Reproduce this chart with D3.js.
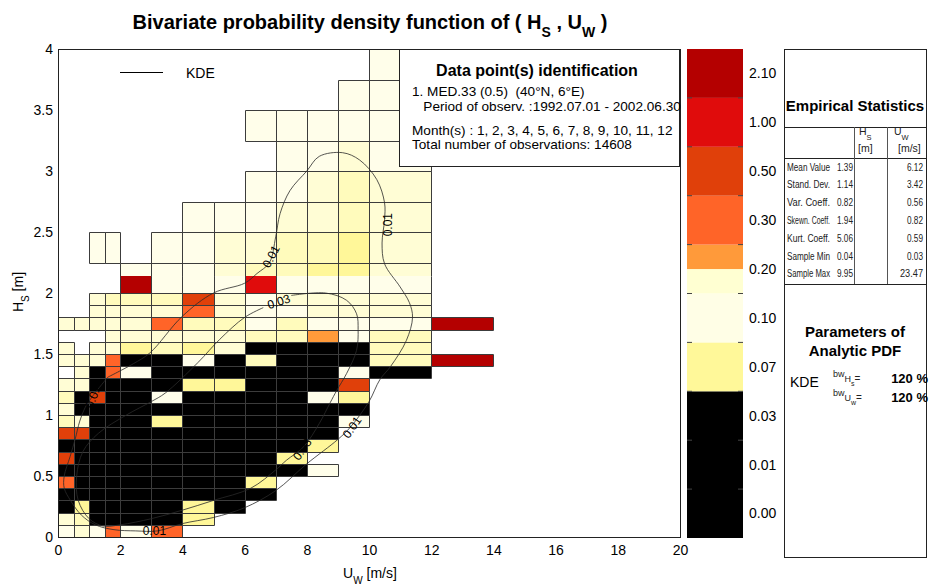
<!DOCTYPE html>
<html>
<head>
<meta charset="utf-8">
<script src="https://cdn.jsdelivr.net/npm/d3@7"></script>
<style>
body { margin: 0; background: #fff; }
svg { font-family: Arial, "Liberation Sans", sans-serif; }
</style>
</head>
<body>
<svg width="930" height="588"></svg>
<script>
// bin edges of the 2D histogram
var uEdges = [0, 0.5, 1, 1.5, 2, 3, 4, 5, 6, 7, 8, 9, 10, 12, 14];
var hEdges = [0, 0.1, 0.2, 0.3, 0.4, 0.5, 0.6, 0.7, 0.8, 0.9, 1.0, 1.1, 1.2, 1.3, 1.4, 1.5,
	1.6, 1.7, 1.8, 1.9, 2.0, 2.14, 2.25, 2.5, 2.75, 3.0, 3.25, 3.5, 3.75, 4.0];

// one string per H row (bottom first), one char per U bin, '.' = empty
var cellRows = [
	'wpwowo........',
	'pq0000y.......',
	'0y0000y0......',
	'000000000.....',
	'o0000000y.....',
	'0000000000w...',
	'O00000000y....',
	'0000000000y...',
	'OO000000000...',
	'qp000y00000w..',
	'p00000000000..',
	'q0O00w0000wy..',
	'pp0000yy000O..',
	'.p0ow000000w0.',
	'pppo00w0q000qR',
	'p.ppyqyp0000q.',
	'...pppppqqLwq.',
	'pppppoqqwqwwwR',
	'..ppppopwwppp.',
	'..pqqqOpwpppp.',
	'....Rwwwrwwww.',
	'....wwwpqqyyp.',
	'..ww.wwppqqyp.',
	'......wwwppqp.',
	'........wwpqp.',
	'.........wwpw.',
	'........wwwww.',
	'...........ww.',
	'............w.'
];

var cellColor = { w: '#FFFEEA', p: '#FFFDD5', q: '#FFFBBC', y: '#FFF799', '0': '#000000',
	L: '#FF9A3A', o: '#FF6428', O: '#E0400A', r: '#E00C0C', R: '#B40000' };

// KDE contours (U, H)
var kde001 = [[1.6,1.31],[1.13,1.16],[0.87,1.06],[0.7,0.95],[0.55,0.8],[0.39,0.66],[0.2,0.5],[0.2,0.4],
	[0.4,0.3],[0.75,0.18],[1.2,0.1],[1.8,0.06],[2.5,0.05],[3.2,0.05],[4.0,0.11],[5.0,0.16],[6.0,0.24],
	[7.0,0.38],[8.0,0.6],[9.0,0.8],[9.4,0.9],[10.0,1.11],[10.35,1.29],[10.7,1.4],[11.2,1.61],[11.4,1.8],
	[11.3,1.92],[11.0,2.05],[10.5,2.24],[10.42,2.41],[10.5,2.6],[10.5,2.74],[10.25,2.93],[9.7,3.09],
	[9.15,3.15],[8.4,3.12],[8.0,3.0],[7.46,2.84],[7.14,2.65],[7.0,2.46],[6.8,2.25],[6.4,2.16],[6.0,2.08],
	[5.0,2.0],[4.0,1.81],[2.96,1.51],[2.42,1.42],[1.6,1.31]];
var kde003 = [[7.5,1.98],[8.6,2.0],[9.28,1.94],[9.6,1.83],[9.65,1.7],[9.6,1.53],[9.28,1.34],[8.96,1.2],
	[8.75,1.1],[8.4,0.93],[7.9,0.74],[7.35,0.63],[7.0,0.55],[6.2,0.4],[5.0,0.3],[4.0,0.22],[3.0,0.15],
	[2.0,0.1],[1.45,0.09],[1.0,0.15],[0.65,0.3],[0.6,0.5],[0.8,0.7],[1.3,0.85],[2.2,1.0],[3.0,1.11],
	[3.45,1.18],[4.5,1.43],[5.2,1.62],[6.0,1.8],[6.6,1.88]];
var contourLabels = [
	['0.01', 6.85, 2.3, -62], ['0.01', 10.6, 2.56, -90], ['0.01', 9.45, 0.9, -55],
	['0.01', 1.12, 1.15, -70], ['0.01', 3.1, 0.05, 0], ['0.03', 7.1, 1.93, -18], ['0.03', 7.85, 0.72, -55]
];

var xTicks = [0, 2, 4, 6, 8, 10, 12, 14, 16, 18, 20];
var yTicks = [0, 0.5, 1, 1.5, 2, 2.5, 3, 3.5, 4];

// colour bar
var cbColors = ['#000000', '#FFF899', '#FFFEE6', '#FFFFD2', '#FF9A3A', '#FF6428', '#E0400A', '#E00C0C', '#B40000'];
var cbSpans = [3, 1, 1, 0.5, 0.5, 1, 1, 1, 1];
var cbLabels = ['0.00', '0.01', '0.03', '0.07', '0.10', '0.20', '0.30', '0.50', '1.00', '2.10'];

// statistics
var statNames = ['Mean Value', 'Stand. Dev.', 'Var. Coeff.', 'Skewn. Coeff.', 'Kurt. Coeff.', 'Sample Min', 'Sample Max'];
var statHs = ['1.39', '1.14', '0.82', '1.94', '5.06', '0.04', '9.95'];
var statUw = ['6.12', '3.42', '0.56', '0.82', '0.59', '0.03', '23.47'];

var infoLines = ['1. MED.33 (0.5)  (40\u00b0N, 6\u00b0E)', '   Period of observ. :1992.07.01 - 2002.06.30',
	'Month(s) : 1, 2, 3, 4, 5, 6, 7, 8, 9, 10, 11, 12', 'Total number of observations: 14608'];

var svg = d3.select('svg');
svg.append('rect').attr('width', 930).attr('height', 588).attr('fill', '#fff');

var x = d3.scaleLinear().domain([0, 20]).range([58, 680]),
	y = d3.scaleLinear().domain([0, 4]).range([537, 49]);

// title
var title = svg.append('text').attr('x', 370).attr('y', 29).attr('text-anchor', 'middle')
	.style('font-size', '20px').style('font-weight', 'bold');
title.append('tspan').text('Bivariate probability density function of ( H');
title.append('tspan').attr('baseline-shift', 'sub').style('font-size', '14px').text('S');
title.append('tspan').text(' , U');
title.append('tspan').attr('baseline-shift', 'sub').style('font-size', '14px').text('W');
title.append('tspan').text(' )');

// cells
var cells = [];
cellRows.forEach(function(row, r){
	row.split('').forEach(function(ch, c){
		if(ch === '.') return;
		cells.push({u0: uEdges[c], u1: uEdges[c+1], h0: hEdges[r], h1: hEdges[r+1], k: ch});
	});
});

var g = svg.append('g');
g.selectAll('rect.cell').data(cells).enter().append('rect')
	.attr('class', 'cell')
	.attr('x', function(d){ return Math.round(x(d.u0)); })
	.attr('y', function(d){ return Math.round(y(d.h1)); })
	.attr('width', function(d){ return Math.round(x(d.u1)) - Math.round(x(d.u0)); })
	.attr('height', function(d){ return Math.round(y(d.h0)) - Math.round(y(d.h1)); })
	.attr('fill', function(d){ return cellColor[d.k]; });

g.selectAll('path.cellline').data(cells).enter().append('path')
	.attr('class', 'cellline')
	.attr('fill', 'none').attr('stroke', '#3c3c3c').attr('stroke-width', 1)
	.attr('d', function(d){
		var x0 = Math.round(x(d.u0)) + 0.5, x1 = Math.round(x(d.u1)) + 0.5,
			yt = Math.round(y(d.h1)) + 0.5, yb = Math.round(y(d.h0)) + 0.5;
		var p = 'M' + x0 + ',' + yb + 'V' + yt + 'M' + x1 + ',' + yb + 'V' + yt;
		if(d.h1 !== 2.14) p += 'M' + x0 + ',' + yt + 'H' + x1;
		if(d.h0 !== 2.14) p += 'M' + x0 + ',' + yb + 'H' + x1;
		return p;
	});

// contours
var line = d3.line()
	.x(function(d){ return x(d[0]); })
	.y(function(d){ return y(d[1]); })
	.curve(d3.curveCatmullRom);

[kde001, kde003].forEach(function(c){
	svg.append('path').attr('d', line(c))
		.attr('fill', 'none').attr('stroke', '#2a2a2a').attr('stroke-width', 0.8);
});

svg.selectAll('text.clabel').data(contourLabels).enter().append('text')
	.attr('class', 'clabel')
	.attr('transform', function(d){ return 'translate(' + x(d[1]) + ',' + y(d[2]) + ') rotate(' + d[3] + ')'; })
	.attr('text-anchor', 'middle').attr('dy', '0.35em')
	.style('font-size', '12px')
	.text(function(d){ return d[0]; });

// frame
svg.append('rect').attr('x', 58.5).attr('y', 49.5).attr('width', 622).attr('height', 488)
	.attr('fill', 'none').attr('stroke', '#222');

// axes
var xAxis = svg.append('g').attr('transform', 'translate(0,537)')
	.call(d3.axisBottom(x).tickValues(xTicks).tickSize(0).tickPadding(8).tickFormat(d3.format('~g')));
var yAxis = svg.append('g').attr('transform', 'translate(58,0)')
	.call(d3.axisLeft(y).tickValues(yTicks).tickSize(0).tickPadding(5).tickFormat(d3.format('~g')));
[xAxis, yAxis].forEach(function(a){
	a.select('.domain').remove();
	a.selectAll('text').style('font-size', '14px').style('font-family', 'Arial, "Liberation Sans", sans-serif').attr('fill', '#000');
});

var xl = svg.append('text').attr('x', 370).attr('y', 578).attr('text-anchor', 'middle').style('font-size', '14px');
xl.append('tspan').text('U');
xl.append('tspan').attr('baseline-shift', 'sub').style('font-size', '10px').text('W');
xl.append('tspan').text(' [m/s]');

var yl = svg.append('text').attr('transform', 'translate(23,292) rotate(-90)').attr('text-anchor', 'middle').style('font-size', '14px');
yl.append('tspan').text('H');
yl.append('tspan').attr('baseline-shift', 'sub').style('font-size', '10px').text('S');
yl.append('tspan').text(' [m]');

// legend
svg.append('line').attr('x1', 120).attr('x2', 163).attr('y1', 72.5).attr('y2', 72.5).attr('stroke', '#000');
svg.append('text').attr('x', 186).attr('y', 78).style('font-size', '14px').text('KDE');

// data identification box
svg.append('rect').attr('x', 399.5).attr('y', 49.5).attr('width', 280).attr('height', 117)
	.attr('fill', '#fff').attr('stroke', '#222');
svg.append('text').attr('x', 537).attr('y', 76).attr('text-anchor', 'middle')
	.style('font-size', '16px').style('font-weight', 'bold').text('Data point(s) identification');
var infoY = [96, 111, 135, 149];
infoLines.forEach(function(t, i){
	svg.append('text').attr('x', 412).attr('y', infoY[i]).style('font-size', '13.6px')
		.attr('xml:space', 'preserve').text(t);
});

// colour bar
var cb = d3.scaleLinear().domain([0, 10]).range([538, 49]);
var cum = 0;
cbColors.forEach(function(col, i){
	var a = cum, b = cum + cbSpans[i];
	cum = b;
	svg.append('rect').attr('x', 687).attr('y', cb(b)).attr('width', 56).attr('height', cb(a) - cb(b))
		.attr('fill', col);
});
d3.range(1, 10).forEach(function(k){
	svg.append('line').attr('x1', 687).attr('x2', 692).attr('y1', cb(k)).attr('y2', cb(k)).attr('stroke', '#444');
	svg.append('line').attr('x1', 738).attr('x2', 743).attr('y1', cb(k)).attr('y2', cb(k)).attr('stroke', '#444');
});
svg.selectAll('text.cbl').data(cbLabels).enter().append('text')
	.attr('class', 'cbl')
	.attr('x', 749).attr('y', function(d, i){ return cb(i + 0.5); })
	.attr('dy', '0.35em').style('font-size', '14px')
	.text(function(d){ return d; });

// statistics panel
var sp = svg.append('g');
sp.append('rect').attr('x', 784.5).attr('y', 49.5).attr('width', 142).attr('height', 508)
	.attr('fill', 'none').attr('stroke', '#222');
sp.append('text').attr('x', 855).attr('y', 111).attr('text-anchor', 'middle')
	.style('font-size', '15px').style('font-weight', 'bold').text('Empirical Statistics');
[127.5, 158.5, 284.5].forEach(function(v){
	sp.append('line').attr('x1', 784).attr('x2', 926).attr('y1', v).attr('y2', v).attr('stroke', '#222');
});
[854.5, 887.5].forEach(function(v){
	sp.append('line').attr('x1', v).attr('x2', v).attr('y1', 127).attr('y2', 284).attr('stroke', '#555');
});
var h1 = sp.append('text').attr('x', 859).attr('y', 135).style('font-size', '10.5px').attr('fill', '#222');
h1.append('tspan').text('H');
h1.append('tspan').attr('baseline-shift', 'sub').style('font-size', '7.5px').text('S');
var h2 = sp.append('text').attr('x', 894).attr('y', 135).style('font-size', '10.5px').attr('fill', '#222');
h2.append('tspan').text('U');
h2.append('tspan').attr('baseline-shift', 'sub').style('font-size', '7.5px').text('W');
sp.append('text').attr('x', 858).attr('y', 152).style('font-size', '10.5px').attr('fill', '#222').text('[m]');
sp.append('text').attr('x', 898).attr('y', 152).style('font-size', '10.5px').attr('fill', '#222').text('[m/s]');

function squeeze(t, w){
	var n = t.node().getComputedTextLength();
	if(n > w) t.attr('textLength', w).attr('lengthAdjust', 'spacingAndGlyphs');
}
statNames.forEach(function(n, i){
	var yy = 170.5 + i * 17.8;
	var t = sp.append('text').attr('x', 787).attr('y', yy).style('font-size', '10px').attr('fill', '#222').text(n);
	squeeze(t, 43);
	var a = sp.append('text').attr('x', 853).attr('y', yy).attr('text-anchor', 'end').style('font-size', '10px').attr('fill', '#222').text(statHs[i]);
	squeeze(a, 16);
	var b = sp.append('text').attr('x', 923).attr('y', yy).attr('text-anchor', 'end').style('font-size', '10px').attr('fill', '#222').text(statUw[i]);
	squeeze(b, statUw[i].length > 4 ? 23 : 16);
});
sp.append('text').attr('x', 855).attr('y', 337).attr('text-anchor', 'middle')
	.style('font-size', '15px').style('font-weight', 'bold').text('Parameters of');
sp.append('text').attr('x', 855).attr('y', 356).attr('text-anchor', 'middle')
	.style('font-size', '15px').style('font-weight', 'bold').text('Analytic PDF');
sp.append('text').attr('x', 790).attr('y', 387).style('font-size', '14px').text('KDE');
[['H', 's', 381], ['U', 'w', 400]].forEach(function(b){
	var t = sp.append('text').attr('x', 833).attr('y', b[2]).style('font-size', '9px').attr('fill', '#222');
	t.append('tspan').attr('dy', -4).text('bw');
	t.append('tspan').attr('dy', 5).text(b[0]);
	t.append('tspan').attr('dy', 4).style('font-size', '7px').text(b[1]);
	t.append('tspan').attr('dy', -4).style('font-size', '10px').text('=');
	sp.append('text').attr('x', 928).attr('y', b[2] + 2).attr('text-anchor', 'end')
		.style('font-size', '13px').style('font-weight', 'bold').text('120 %');
});
</script>
</body>
</html>
